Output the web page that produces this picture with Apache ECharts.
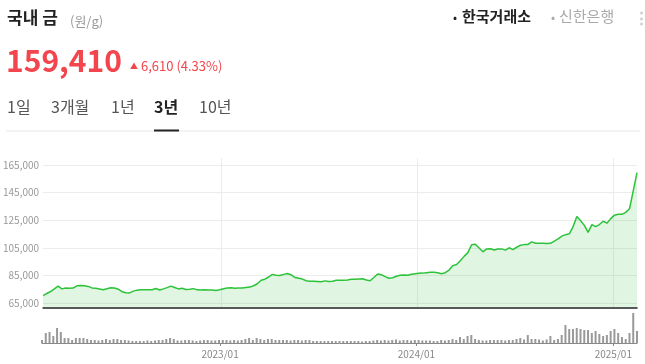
<!DOCTYPE html>
<html><head><meta charset="utf-8">
<script src="https://cdn.jsdelivr.net/npm/echarts@6/dist/echarts.min.js"></script>
<style>html,body{margin:0;padding:0;background:#fff}#c{width:645px;height:364px}</style>
</head><body><div id="c"></div>
<script>
// weekly series, first week starting 2022-02-04, last point 2025-02-14 (won per gram)
const startDate = '2022-02-04';
const prices = [
70600,72100,73500,75400,77400,75400,76100,75800,76000,77600,
77900,77700,77200,76100,75800,75400,74800,75500,76200,76000,
75200,73400,72600,72500,73800,74500,74700,74800,74700,74800,
75700,74600,75400,76300,77400,76400,75400,75800,75000,75100,
75600,74700,74600,74700,74600,74600,74300,74800,75500,76100,
76300,75900,76000,76100,76400,76700,77700,79100,81600,82400,
84000,85900,85200,85100,85900,86500,85600,83700,83100,82500,
81300,81000,80900,80700,80500,81200,80700,81000,81600,81600,
81700,81900,82300,82400,82600,82700,81800,81300,83600,86200,
85700,84300,83100,83500,84500,85200,85400,85200,86000,86400,
86700,86800,87100,87400,87400,87000,86400,87100,89000,92200,
93000,95800,98900,101600,107300,107600,104900,102200,104300,104400,
103500,104200,104300,103400,105100,103800,105500,107000,107400,107500,
109400,108400,108400,108300,108200,108300,109900,111500,113500,114600,
115200,120400,127800,124700,121300,116300,121900,120400,121900,124300,
122900,126200,128700,129300,129300,130700,133300,146300,159410
];
// relative trading volume (same weeks)
const volumes = [
3,10,11,7,15,11,5,5,3,5, 5,5,4,3,3,2.5,3,4,3,4,
4,3,3,2.5,2,2,2,2,2.5,2, 2.5,3,3,4,5,4,2.5,2.5,3,3,
2.5,2,2.5,3,3,2.5,2.5,3,3,3, 2.5,3,2.5,3,4,5,3,5,4,3,
4,4,3,3,3,3,2.5,3,3,2.5, 3,3,2,2,2,2,2,2,2,2,
2,2,
2,2,2,1.5,2,2,2.5,3,2.5,3, 2.5,3,3.5,2.5,3,3,2.5,3,3,2.5,
2.5,2.5,2,2,3,2.5,3,4,3,6, 4,7,8,4,3,2.5,2.5,3,3,3,
3,2.5,3,3,4,5,3.5,8,4,4, 3.5,2.5,3.5,7,3,4,8,18,14,14,
15,14,13,13,10,12,9,7,8,12, 14,10,6,4,10,30,12
];
const yTickValues = [65000, 85000, 105000, 125000, 145000, 165000];
const xTickLabels = ['2023/01', '2024/01', '2025/01'];
const tabs = ['1일', '3개월', '1년', '3년', '10년'];

const DAY = 86400000;
const sp = startDate.split('-').map(Number);
const t0 = Date.UTC(sp[0], sp[1] - 1, sp[2]);
const dates = prices.map((_, j) => t0 + j * 7 * DAY);
const tEnd = dates[dates.length - 1];
const xTicks = xTickLabels.map(s => { const p = s.split('/').map(Number); return Date.UTC(p[0], p[1] - 1, 1); });
const fmtX = v => { const i = xTicks.indexOf(v); return i >= 0 ? xTickLabels[i] : ''; };

const KR = '"Noto Sans CJK KR", "Noto Sans", sans-serif';
const RED = '#f2454d';
const chart = echarts.init(document.getElementById('c'));

const tabX = [7, 51, 111, 154, 199];
const graphic = [
  { type: 'text', x: 7, y: 18, style: { text: '국내 금', font: 'bold 17px ' + KR, fill: '#222', verticalAlign: 'middle' } },
  { type: 'text', x: 70, y: 21, style: { text: '(원/g)', font: '13px ' + KR, fill: '#999', verticalAlign: 'middle' } },
  { type: 'text', x: 6, y: 61, style: { text: '159,410', font: 'bold 30px ' + KR, fill: RED, verticalAlign: 'middle' } },
  { type: 'text', x: 130, y: 66, style: { text: '▲', font: '8px ' + KR, fill: RED, verticalAlign: 'middle' } },
  { type: 'text', x: 141, y: 66, style: { text: '6,610 (4.33%)', font: '13px ' + KR, fill: RED, verticalAlign: 'middle' } },
  { type: 'text', x: 453, y: 17, style: { text: '•', font: '12px ' + KR, fill: '#222', verticalAlign: 'middle' } },
  { type: 'text', x: 462, y: 16, style: { text: '한국거래소', font: 'bold 15px ' + KR, fill: '#222', verticalAlign: 'middle' } },
  { type: 'text', x: 551, y: 17, style: { text: '•', font: '12px ' + KR, fill: '#aaa', verticalAlign: 'middle' } },
  { type: 'text', x: 559, y: 16, style: { text: '신한은행', font: '15px ' + KR, fill: '#aaa', verticalAlign: 'middle' } },
  { type: 'text', x: 634, y: 17, style: { text: '⋮', font: 'bold 15px ' + KR, fill: '#c8c8c8', verticalAlign: 'middle' } },
  { type: 'rect', shape: { x: 6, y: 130.5, width: 634, height: 1 }, style: { fill: '#e8e8e8' } },
  { type: 'rect', shape: { x: 154, y: 129.5, width: 25, height: 2 }, style: { fill: '#222' } }
];
tabs.forEach((t, i) => {
  graphic.push({ type: 'text', x: tabX[i], y: 107, style: { text: t, font: (i === 3 ? 'bold ' : '') + '16px ' + KR, fill: i === 3 ? '#222' : '#555', verticalAlign: 'middle' } });
});

chart.setOption({
  animation: false,
  backgroundColor: '#fff',
  graphic: graphic,
  grid: [
    { left: 42, right: 8, top: 158, height: 149.3 },
    { left: 42, right: 8, top: 312, height: 31 }
  ],
  xAxis: [
    { type: 'value', gridIndex: 0, min: t0, max: tEnd,
      axisLine: { show: true, onZero: false, lineStyle: { color: '#222', width: 1.5 } },
      axisTick: { show: false, customValues: xTicks },
      axisLabel: { show: false, customValues: xTicks },
      splitLine: { show: true, lineStyle: { color: '#ececec', width: 1 } } },
    { type: 'value', gridIndex: 1, min: t0, max: tEnd,
      axisLine: { show: true, onZero: false, lineStyle: { color: '#888', width: 1 } },
      axisTick: { show: true, customValues: xTicks, length: 3, lineStyle: { color: '#888' } },
      axisLabel: { show: true, customValues: xTicks, formatter: fmtX, color: '#888', fontSize: 10, margin: 6, fontFamily: KR },
      splitLine: { show: false } }
  ],
  yAxis: [
    { type: 'value', gridIndex: 0, min: 62100, max: 170000,
      axisLine: { show: false },
      axisTick: { show: false, customValues: yTickValues },
      axisLabel: { customValues: yTickValues, formatter: v => v.toLocaleString('en-US'), color: '#999', fontSize: 10, margin: 4, fontFamily: KR },
      splitLine: { show: true, lineStyle: { color: '#ececec', width: 1 } } },
    { type: 'value', gridIndex: 1, min: 0, max: 31, show: false, splitLine: { show: false } }
  ],
  series: [
    { type: 'line', xAxisIndex: 0, yAxisIndex: 0, showSymbol: false, symbol: 'none',
      data: dates.map((d, j) => [d, prices[j]]),
      lineStyle: { color: '#2cc33a', width: 1.5 },
      areaStyle: { color: 'rgba(46,196,59,0.21)' } },
    { type: 'bar', xAxisIndex: 1, yAxisIndex: 1, barWidth: 2,
      data: dates.map((d, j) => [d, volumes[j]]),
      itemStyle: { color: '#999' } }
  ]
});
</script>
</body></html>
